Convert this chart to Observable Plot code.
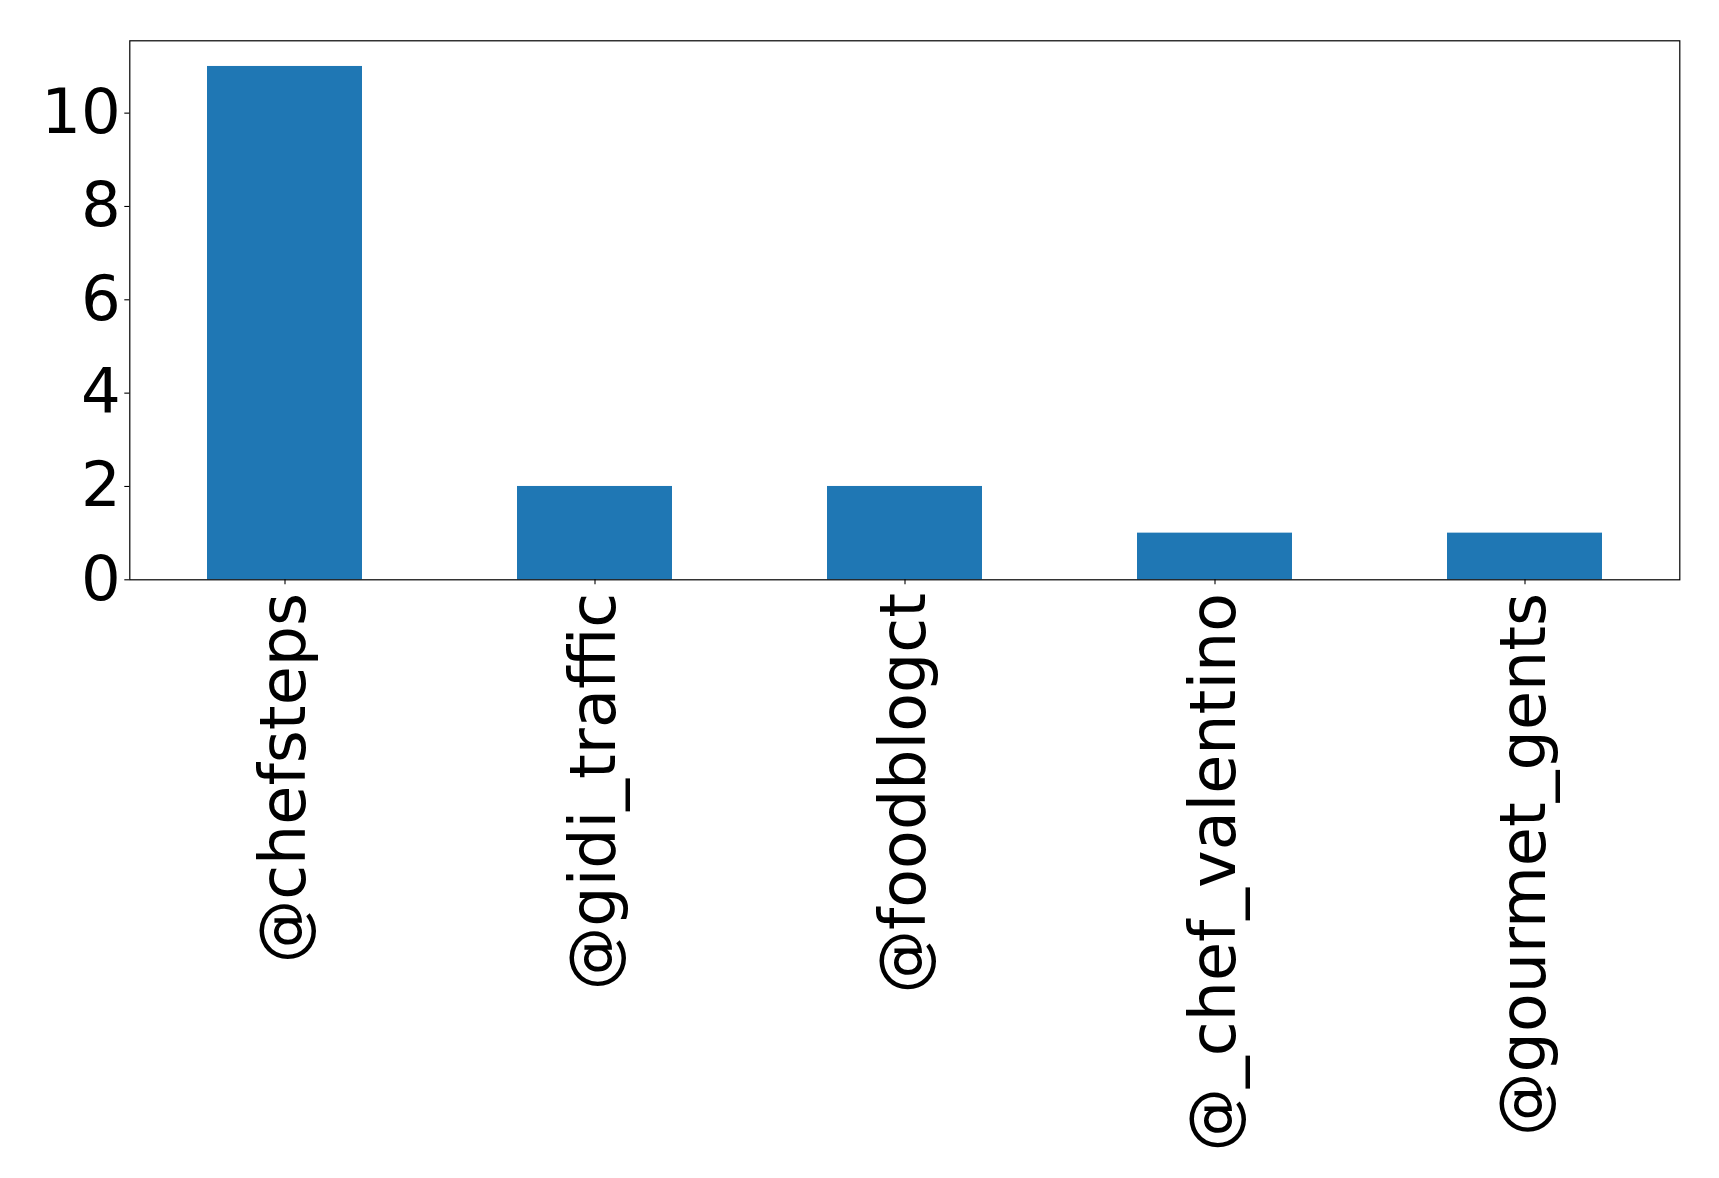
<!DOCTYPE html>
<html>
<head>
<meta charset="utf-8">
<script src="https://cdn.jsdelivr.net/npm/d3@7"></script>
<script src="https://cdn.jsdelivr.net/npm/@observablehq/plot@0.6"></script>
<style>
  html, body { margin: 0; padding: 0; background: #fff; }
  svg { display: block; }
</style>
</head>
<body>
<div id="chart"></div>
<script>
const categories = ["@chefsteps", "@gidi_traffic", "@foodblogct", "@_chef_valentino", "@gourmet_gents"];
const counts = [11, 2, 2, 1, 1];
const yTicks = [0, 2, 4, 6, 8, 10];

const data = categories.map((c, i) => ({category: c, count: counts[i]}));

const chart = Plot.plot({
  width: 1719,
  height: 1178,
  marginLeft: 129.3,
  marginRight: 39.7,
  marginTop: 40.3,
  marginBottom: 598.7,
  style: {fontFamily: "DejaVu Sans", fontSize: "62.5px", color: "#000", background: "#fff"},
  x: {type: "band", domain: categories, paddingInner: 0.5, paddingOuter: 0.25, label: null},
  y: {domain: [0, 11.55], label: null},
  marks: [
    Plot.barY(data, {x: "category", y: "count", fill: "#1f77b4"}),
    Plot.frame({stroke: "#000", strokeWidth: 1.2}),
    Plot.axisY({ticks: yTicks, tickSize: 5, tickPadding: 4, tickFormat: d => String(d), label: null, strokeWidth: 1.1}),
    Plot.axisX({tickRotate: -90, tickSize: 5, tickPadding: 8, label: null, strokeWidth: 1.1, fontSize: 63.5})
  ]
});
document.getElementById("chart").appendChild(chart);
</script>
</body>
</html>
